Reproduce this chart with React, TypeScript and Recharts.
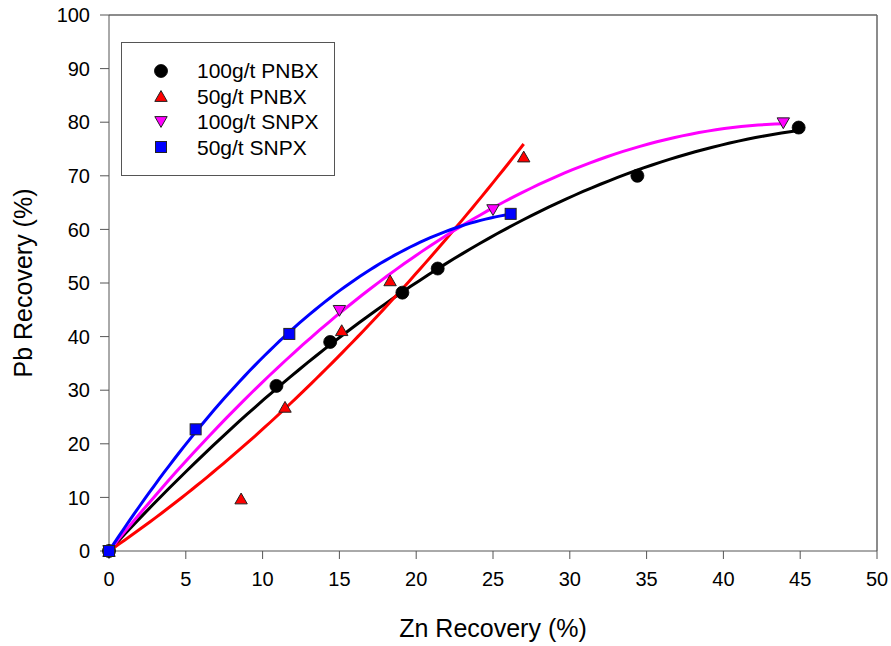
import React from 'react';
import {
  ComposedChart,
  XAxis,
  YAxis,
  Line,
  Scatter,
  Legend,
  ReferenceLine,
  Label,
} from 'recharts';

// Tick values
const xTicks = [0, 5, 10, 15, 20, 25, 30, 35, 40, 45, 50];
const yTicks = [0, 10, 20, 30, 40, 50, 60, 70, 80, 90, 100];

// Zn recovery (%) / Pb recovery (%) per collector dosage
const pnbx100X = [0, 10.9, 14.4, 19.1, 21.4, 34.4, 44.9];
const pnbx100Y = [0, 30.8, 39.0, 48.2, 52.7, 70.0, 79.0];

const pnbx50X = [0, 8.6, 11.46, 15.15, 18.3, 27.0];
const pnbx50Y = [0, 9.8, 26.9, 41.2, 50.5, 73.6];

const snpx100X = [0, 15.0, 25.0, 43.9];
const snpx100Y = [0, 44.8, 63.6, 79.8];

const snpx50X = [0, 5.64, 11.74, 26.15];
const snpx50Y = [0, 22.7, 40.5, 62.9];

const seriesNames = ['100g/t PNBX', '50g/t PNBX', '100g/t SNPX', '50g/t SNPX'];

const FONT = '"Liberation Sans", Arial, Helvetica, sans-serif';

type Pt = { x: number; y: number };

const toPoints = (xs: number[], ys: number[]): Pt[] => xs.map((x, i) => ({ x, y: ys[i] }));

// Least-squares quadratic y = a*x + b*x^2 forced through the origin
function quadFit(xs: number[], ys: number[]): [number, number] {
  let s2 = 0, s3 = 0, s4 = 0, sxy = 0, sx2y = 0;
  xs.forEach((x, i) => {
    const y = ys[i];
    s2 += x * x;
    s3 += x * x * x;
    s4 += x * x * x * x;
    sxy += x * y;
    sx2y += x * x * y;
  });
  const det = s2 * s4 - s3 * s3;
  const a = (sxy * s4 - s3 * sx2y) / det;
  const b = (s2 * sx2y - s3 * sxy) / det;
  return [a, b];
}

function fitCurve(xs: number[], ys: number[]): Pt[] {
  const [a, b] = quadFit(xs, ys);
  const xMax = Math.max(...xs);
  const n = 80;
  const out: Pt[] = [];
  for (let i = 0; i <= n; i++) {
    const x = (xMax * i) / n;
    out.push({ x, y: a * x + b * x * x });
  }
  return out;
}

const series = [
  { name: seriesNames[0], color: '#000000', pts: toPoints(pnbx100X, pnbx100Y), fit: fitCurve(pnbx100X, pnbx100Y), marker: 'circle' },
  { name: seriesNames[1], color: '#FF0000', pts: toPoints(pnbx50X, pnbx50Y), fit: fitCurve(pnbx50X, pnbx50Y), marker: 'triUp' },
  { name: seriesNames[2], color: '#FF00FF', pts: toPoints(snpx100X, snpx100Y), fit: fitCurve(snpx100X, snpx100Y), marker: 'triDown' },
  { name: seriesNames[3], color: '#0000FF', pts: toPoints(snpx50X, snpx50Y), fit: fitCurve(snpx50X, snpx50Y), marker: 'square' },
];

function Marker({ kind, cx, cy, color }: { kind: string; cx: number; cy: number; color: string }) {
  const edge = '#222';
  if (kind === 'circle') {
    return <circle cx={cx} cy={cy} r={6.5} fill={color} stroke="#000" strokeWidth={0.8} />;
  }
  if (kind === 'square') {
    return <rect x={cx - 5.5} y={cy - 5.5} width={11} height={11} fill={color} stroke={edge} strokeWidth={1} />;
  }
  const w = 6.2;
  const h = 5.4;
  if (kind === 'triUp') {
    const d = `M${cx},${cy - h} L${cx + w},${cy + h} L${cx - w},${cy + h} Z`;
    return <path d={d} fill={color} stroke={edge} strokeWidth={1} />;
  }
  const d = `M${cx - w},${cy - h} L${cx + w},${cy - h} L${cx},${cy + h} Z`;
  return <path d={d} fill={color} stroke={edge} strokeWidth={1} />;
}

const legendRows = [27.8, 53.3, 78.8, 104.3];

function LegendBox() {
  return (
    <div
      style={{
        position: 'relative',
        width: 214,
        height: 134,
        boxSizing: 'border-box',
        border: '1px solid #555',
        background: '#fff',
        fontFamily: FONT,
      }}
    >
      {series.map((s, i) => (
        <React.Fragment key={s.name}>
          <svg
            width={20}
            height={20}
            style={{ position: 'absolute', left: 39 - 10, top: legendRows[i] - 10, overflow: 'visible' }}
          >
            <Marker kind={s.marker} cx={10} cy={10} color={s.color} />
          </svg>
          <div
            style={{
              position: 'absolute',
              left: 75,
              top: legendRows[i] - 10.5,
              fontSize: 21,
              lineHeight: '21px',
              whiteSpace: 'nowrap',
              color: '#000',
            }}
          >
            {s.name}
          </div>
        </React.Fragment>
      ))}
    </div>
  );
}

const XTitle = (props: any) => {
  const vb = props.viewBox || { x: 109, y: 551, width: 768, height: 95 };
  return (
    <text
      x={vb.x + vb.width / 2}
      y={vb.y + vb.height - 9.5}
      textAnchor="middle"
      fontSize={25}
      fontFamily={FONT}
      fill="#000"
    >
      Zn Recovery (%)
    </text>
  );
};

const YTitle = (props: any) => {
  const vb = props.viewBox || { x: 0, y: 15, width: 109, height: 536 };
  const x = vb.x + 31.5;
  const y = vb.y + vb.height / 2;
  return (
    <text
      x={x}
      y={y}
      transform={`rotate(-90 ${x} ${y})`}
      textAnchor="middle"
      fontSize={25}
      fontFamily={FONT}
      fill="#000"
    >
      Pb Recovery (%)
    </text>
  );
};

export default function App() {
  const tickStyle = { fill: '#000', fontSize: 20, fontFamily: FONT };
  return (
    <div style={{ position: 'absolute', left: 0, top: 0, background: '#fff' }}>
      <ComposedChart width={891} height={646} margin={{ top: 15, right: 14, bottom: 0, left: 0 }}>
        <XAxis
          type="number"
          dataKey="x"
          domain={[0, 50]}
          ticks={xTicks}
          interval={0}
          height={95}
          tickSize={8}
          tickMargin={13}
          stroke="#555"
          tick={tickStyle}
        >
          <Label content={<XTitle />} />
        </XAxis>
        <YAxis
          type="number"
          dataKey="y"
          domain={[0, 100]}
          ticks={yTicks}
          interval={0}
          width={109}
          tickSize={9}
          tickMargin={10}
          stroke="#555"
          tick={tickStyle}
        >
          <Label content={<YTitle />} />
        </YAxis>
        <ReferenceLine y={100} stroke="#666" strokeWidth={1.5} />
        <ReferenceLine x={50} stroke="#666" strokeWidth={1.5} />
        {series.map((s) => (
          <Line
            key={`fit-${s.name}`}
            data={s.fit}
            dataKey="y"
            type="linear"
            stroke={s.color}
            strokeWidth={3}
            dot={false}
            activeDot={false}
            legendType="none"
            isAnimationActive={false}
          />
        ))}
        {series.map((s) => (
          <Scatter
            key={`pts-${s.name}`}
            name={s.name}
            data={s.pts}
            dataKey="y"
            fill={s.color}
            isAnimationActive={false}
            shape={(p: any) => <Marker kind={s.marker} cx={p.cx} cy={p.cy} color={s.color} />}
          />
        ))}
        <Legend
          layout="horizontal"
          verticalAlign="middle"
          align="center"
          wrapperStyle={{ left: 121, top: 42, width: 214, height: 134 }}
          content={() => <LegendBox />}
        />
      </ComposedChart>
    </div>
  );
}
